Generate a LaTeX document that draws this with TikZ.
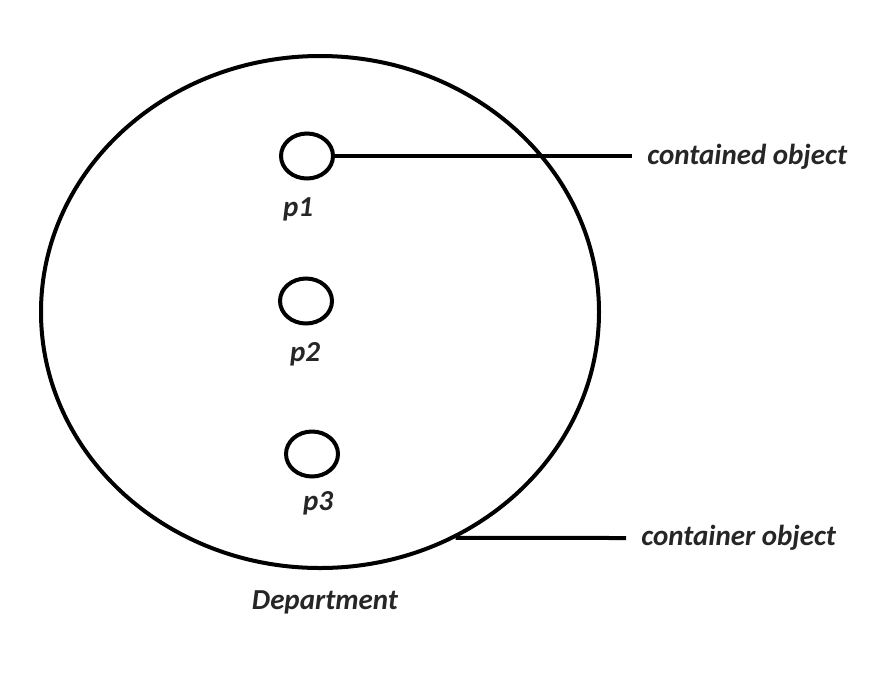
\documentclass[tikz,border=0pt]{standalone}
\usepackage{fontspec}
\setmainfont{Carlito}
\usetikzlibrary{shapes.geometric,positioning}

\begin{document}
\begin{tikzpicture}[
			x=1pt,y=-1pt,
			line width=4pt,
			part/.style={
				draw=black,
				ellipse,
				inner sep=0pt,
				minimum width=52pt,
				minimum height=45pt
			},
			every node/.style={font=\fontsize{29}{32}\selectfont\bfseries\itshape, text=black!85}
			]
			\useasboundingbox (0,0) rectangle (896,675);
			% container
			\node[draw=black, ellipse, inner sep=0pt, minimum width=558pt, minimum height=512pt] (dept) at (320,312) {};
			\node (deptlbl) at (325,602) {Department};
			
			% contained parts
			\node[part] (p1) at (307,156) {};
			\node[part] (p2) at (306,301) {};
			\node[part] (p3) at (312,454) {};
			\node (p1lbl) at (298,209) {p1};
			\node (p2lbl) at (305,354) {p2};
			\node (p3lbl) at (318,503) {p3};
			
			% notes
			\node[anchor=west] (ctd) at (642,157) {contained object};
			\node[anchor=west] (ctr) at (636,538) {container object};
			\coordinate (ctdend) at (632,156);
			\coordinate (ctrend) at (626,538);
			\draw (p1.east) -- (ctdend);
			\draw (dept.-59) -- (ctrend);
		\end{tikzpicture}
\end{document}
